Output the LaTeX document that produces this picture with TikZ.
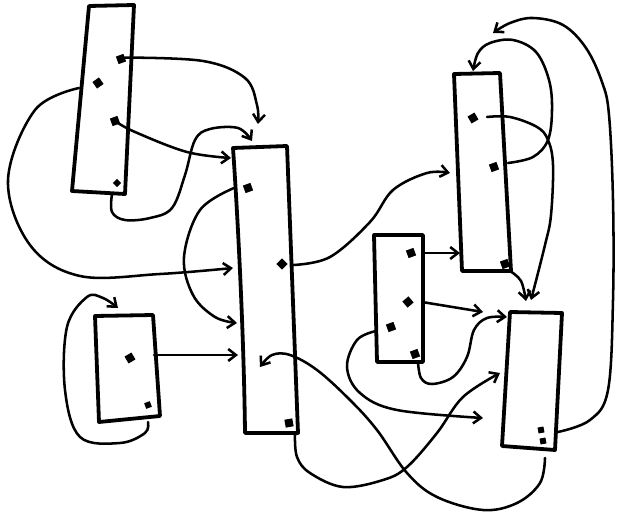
\documentclass[tikz,border=0pt]{standalone}
\usepackage{tikz}
\usetikzlibrary{arrows.meta}
\definecolor{encre}{HTML}{000000}
\tikzset{
  cadre/.style={draw=encre, line width=5.4pt, line join=round},
  fleche/.style={-{Straight Barb[length=11pt,width=17pt]}, line width=3.6pt, draw=encre, line cap=round},
  tache/.style={rectangle, fill=encre, inner sep=0pt, minimum size=0.4cm, rotate=#1},
  tache/.default=20,
}

\begin{document}
\begin{tikzpicture}[x=0.05cm, y=-0.05cm]
    \useasboundingbox (0,0) rectangle (622,514);
    % les six boites
    \coordinate (a-tl) at (89,6);    \coordinate (a-tr) at (134,5);
    \coordinate (a-br) at (125,194); \coordinate (a-bl) at (72,191);
    \coordinate (b-tl) at (233,148); \coordinate (b-tr) at (287,146);
    \coordinate (b-br) at (298,433); \coordinate (b-bl) at (245,433);
    \coordinate (c-tl) at (95,316);  \coordinate (c-tr) at (153,315);
    \coordinate (c-br) at (160,416); \coordinate (c-bl) at (99,422);
    \coordinate (d-tl) at (374,235); \coordinate (d-tr) at (423,235);
    \coordinate (d-br) at (423,362); \coordinate (d-bl) at (377,362);
    \coordinate (e-tl) at (454,74);  \coordinate (e-tr) at (500,73);
    \coordinate (e-br) at (511,271); \coordinate (e-bl) at (462,271);
    \coordinate (f-tl) at (510,312); \coordinate (f-tr) at (562,313);
    \coordinate (f-br) at (555,450); \coordinate (f-bl) at (502,446);
    \draw[cadre] (a-tl) -- (a-tr) -- (a-br) -- (a-bl) -- cycle;
    \draw[cadre] (b-tl) -- (b-tr) -- (b-br) -- (b-bl) .. controls (244,340) and (238,220) .. cycle;
    \draw[cadre] (c-tl) -- (c-tr) -- (c-br) -- (c-bl) -- cycle;
    \draw[cadre] (d-tl) -- (d-tr) -- (d-br) -- (d-bl) -- cycle;
    \draw[cadre] (e-tl) -- (e-tr) -- (e-br) -- (e-bl) -- cycle;
    \draw[cadre] (f-tl) -- (f-tr) -- (f-br) -- (f-bl) -- cycle;
    % les taches
    \node[tache] (a1) at (121,59) {};
    \node[tache=35] (a2) at (98,83) {};
    \node[tache] (a3) at (115,121) {};
    \node[tache=45, minimum size=0.3cm] (a4) at (117,183) {};
    \node[tache] (b1) at (248,188) {};
    \node[tache=45] (b2) at (282,264) {};
    \node[tache=10] (b3) at (289,423) {};
    \node[tache=30] (c1) at (130,358) {};
    \node[tache=20, minimum size=0.3cm] (c2) at (148,405) {};
    \node[tache] (d1) at (411,253) {};
    \node[tache=40] (d2) at (408,302) {};
    \node[tache] (d3) at (391,327) {};
    \node[tache] (d4) at (415,354) {};
    \node[tache=30] (e1) at (473,118) {};
    \node[tache] (e2) at (494,167) {};
    \node[tache] (e3) at (505,264) {};
    \node[tache=10, minimum size=0.3cm] (f1) at (541,430) {};
    \node[tache=10, minimum size=0.3cm] (f2) at (543,441) {};
    % points d'accroche
    \coordinate (a-o2) at (112,194);  \coordinate (a-o3) at (79,88);
    \coordinate (b-i1) at (258,124);  \coordinate (b-i2) at (231,158);
    \coordinate (b-i3) at (252,141);  \coordinate (b-i4) at (233,268);
    \coordinate (b-o5) at (234,188);  \coordinate (b-i5) at (237,323);
    \coordinate (b-i6) at (238,355);  \coordinate (b-o8) at (293,265);
    \coordinate (b-i13) at (260,367); \coordinate (b-o14) at (295,435);
    \coordinate (c-o6) at (154,355);  \coordinate (c-o7) at (148,422);
    \coordinate (c-i7) at (118,308);
    \coordinate (d-o9) at (423,253);  \coordinate (d-o10) at (422,302);
    \coordinate (d-o11) at (376,331); \coordinate (d-o12) at (418,362);
    \coordinate (e-i8) at (450,173);  \coordinate (e-i9) at (460,253);
    \coordinate (e-o15) at (487,117); \coordinate (e-o16) at (508,163);
    \coordinate (e-i16) at (473,71);  \coordinate (e-o17) at (510,271);
    \coordinate (e-i18) at (493,33);
    \coordinate (f-i10) at (483,312); \coordinate (f-i11) at (483,418);
    \coordinate (f-i12) at (507,317); \coordinate (f-o13) at (545,458);
    \coordinate (f-i14) at (500,373); \coordinate (f-i15) at (531,300);
    \coordinate (f-i17) at (526,301); \coordinate (f-o18) at (558,432);
    % les liens
    \draw[fleche] plot[smooth, tension=0.6] coordinates {(a1.east) (203,61) (245,78) (257,105) (b-i1)};
    \draw[fleche] plot[smooth, tension=0.6] coordinates {(a3) (135,132) (187,152) (b-i2)};
    \draw[fleche] plot[smooth, tension=0.6] coordinates {(a-o2) (112,212) (125,220) (150,218) (172,208) (185,175) (195,140) (210,129) (238,128) (b-i3)};
    \draw[fleche] plot[smooth, tension=0.6] coordinates {(a-o3) (35,110) (8,180) (30,245) (80,276) (160,274) (b-i4)};
    \draw[fleche] plot[smooth, tension=0.6] coordinates {(b-o5) (200,210) (184,257) (193,295) (215,317) (b-i5)};
    \draw[fleche] (c-o6) -- (b-i6);
    \draw[fleche] plot[smooth, tension=0.6] coordinates {(c-o7) (145,433) (120,443) (80,437) (65,390) (67,327) (87,297) (103,298) (c-i7)};
    \draw[fleche] plot[smooth, tension=0.6] coordinates {(b-o8) (330,257) (370,222) (393,190) (427,173) (e-i8)};
    \draw[fleche] (d-o9) -- (e-i9);
    \draw[fleche] (d-o10) -- (f-i10);
    \draw[fleche] plot[smooth, tension=0.6] coordinates {(d-o11) (357,340) (347,367) (360,393) (397,410) (f-i11)};
    \draw[fleche] plot[smooth, tension=0.6] coordinates {(d-o12) (421,378) (432,384) (453,377) (467,357) (474,330) (487,318) (f-i12)};
    \draw[fleche] plot[smooth, tension=0.6] coordinates {(f-o13) (540,483) (517,503) (483,510) (437,497) (407,473) (377,430) (350,400) (317,370) (290,355) (272,355) (b-i13)};
    \draw[fleche] plot[smooth, tension=0.6] coordinates {(b-o14) (297,457) (310,473) (343,487) (383,480) (407,467) (437,433) (463,397) (f-i14)};
    \draw[fleche] plot[smooth, tension=0.6] coordinates {(e-o15) (510,117) (537,127) (548,140) (553,165) (551,215) (545,245) (f-i15)};
    \draw[fleche] plot[smooth, tension=0.6] coordinates {(e-o16) (533,157) (548,140) (552,110) (549,80) (536,52) (513,40) (490,43) (478,53) (e-i16)};
    \draw[fleche] plot[smooth, tension=0.6] coordinates {(e-o17) (521,281) (f-i17)};
    \draw[fleche] plot[smooth, tension=0.6] coordinates {(f-o18) (590,420) (608,390) (613,300) (613,200) (609,115) (602,82) (586,48) (563,25) (533,18) (510,23) (e-i18)};
  \end{tikzpicture}
\end{document}
